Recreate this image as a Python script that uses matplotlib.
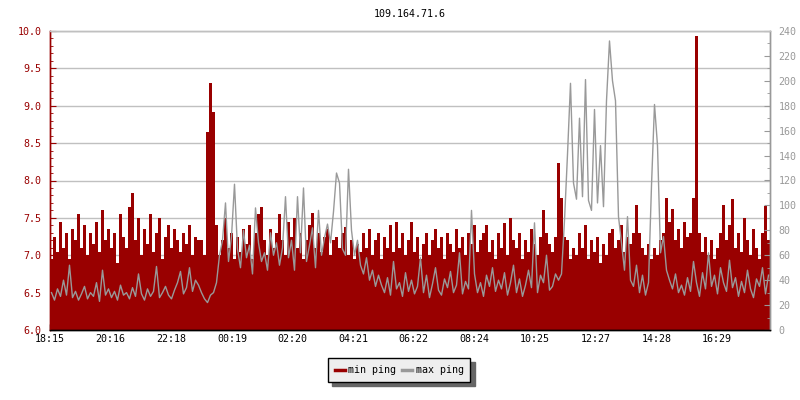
import numpy as np
import matplotlib
matplotlib.use("Agg")
import matplotlib.pyplot as plt
from matplotlib.lines import Line2D
from matplotlib.ticker import MultipleLocator, FormatStrFormatter

# ============== DATA ==============
TITLE = "109.164.71.6"
START = "18:15"
SAMPLE_MIN = 6  # minutes between samples

tick_labels = ["18:15", "20:16", "22:18", "00:19", "02:20", "04:21",
               "06:22", "08:24", "10:25", "12:27", "14:28", "16:29"]

# min ping (left axis)
min_ping = [
    6.95, 7.25, 7.05, 7.45, 7.1, 7.3, 6.95, 7.35, 7.2, 7.55,
    7.1, 7.4, 7.0, 7.3, 7.15, 7.45, 7.05, 7.6, 7.2, 7.35,
    7.1, 7.3, 6.9, 7.55, 7.25, 7.1, 7.65, 7.83, 7.2, 7.5,
    7.0, 7.35, 7.15, 7.55, 7.05, 7.3, 7.5, 6.95, 7.25, 7.4,
    7.1, 7.35, 7.2, 7.05, 7.3, 7.15, 7.4, 7.0, 7.25, 7.2,
    7.2, 7.0, 8.65, 9.31, 8.92, 7.4, 7.0, 7.2, 7.5, 7.1,
    7.3, 6.95, 7.25, 7.05, 7.35, 7.15, 7.4, 6.95, 7.3, 7.55,
    7.65, 7.2, 7.0, 7.35, 7.1, 7.3, 7.55, 7.2, 7.0, 7.45,
    7.25, 7.5, 7.1, 7.3, 6.95, 7.2, 7.4, 7.57, 7.1, 7.3,
    7.05, 7.25, 7.35, 7.0, 7.2, 7.25, 7.1, 7.3, 7.38, 7.0,
    7.2, 6.95, 7.15, 7.05, 7.3, 7.1, 7.35, 7.0, 7.2, 7.3,
    6.95, 7.25, 7.1, 7.4, 7.05, 7.45, 7.1, 7.3, 7.0, 7.2,
    7.45, 7.05, 7.25, 6.95, 7.15, 7.3, 7.0, 7.2, 7.35, 7.1,
    7.25, 6.95, 7.3, 7.15, 7.05, 7.35, 7.1, 7.25, 7.0, 7.3,
    7.15, 7.4, 7.05, 7.2, 7.3, 7.4, 7.05, 7.2, 6.95, 7.3,
    7.1, 7.43, 7.0, 7.5, 7.2, 7.1, 7.3, 6.95, 7.2, 7.05,
    7.35, 7.15, 7.0, 7.25, 7.6, 7.3, 7.15, 7.05, 7.25, 8.24,
    7.77, 7.25, 7.2, 6.95, 7.1, 7.0, 7.3, 7.1, 7.4, 6.95,
    7.2, 7.05, 7.25, 6.9, 7.15, 7.0, 7.3, 7.35, 7.1, 7.2,
    7.4, 7.05, 7.25, 7.15, 7.3, 7.67, 7.3, 7.1, 7.0, 7.15,
    6.95, 7.1, 7.0, 7.2, 7.3, 7.77, 7.45, 7.62, 7.2, 7.35,
    7.1, 7.45, 7.25, 7.3, 7.76, 9.93, 7.3, 7.05, 7.25, 7.0,
    7.2, 6.95, 7.1, 7.3, 7.67, 7.2, 7.4, 7.75, 7.1, 7.3,
    7.05, 7.5, 7.2, 7.0, 7.35, 7.1, 6.95, 7.3, 7.66, 7.2,
]

# max ping (right axis, ms)
max_ping = [
    30, 24, 33, 27, 40, 28, 52, 26, 31, 24,
    29, 35, 25, 30, 27, 38, 23, 48, 28, 33,
    26, 31, 24, 36, 28, 30, 25, 34, 27, 45,
    29, 24, 33, 27, 31, 51, 26, 30, 35, 28,
    25, 32, 38, 47, 29, 34, 50, 31, 40, 36,
    30, 25, 22, 28, 30, 38, 60, 72, 102, 55,
    75, 117, 65, 50, 80, 58, 68, 45, 98, 70,
    55, 62, 48, 78, 60, 70, 52, 66, 107, 58,
    72, 48, 107, 62, 114, 55, 68, 82, 50, 96,
    60, 74, 85, 70, 95, 126, 118, 65, 60, 129,
    80, 60, 72, 52, 45, 58, 40, 48, 35, 44,
    36, 30, 42, 28, 55, 33, 38, 27, 46, 31,
    40, 29, 35, 58, 30, 44, 26, 37, 50, 32,
    28, 41, 34, 47, 30, 36, 62, 29, 39, 33,
    96, 45, 30, 38, 27, 44, 35, 50, 31, 40,
    33, 46, 28, 38, 52, 30, 41, 27, 36, 48,
    34, 86, 30, 44, 38, 60, 32, 35, 45, 40,
    45, 88, 141, 198, 118, 105, 170, 107, 201, 104,
    96, 177, 102, 148, 99, 184, 232, 200, 184, 91,
    70, 48, 91, 40, 35, 52, 30, 44, 28, 38,
    116, 181, 148, 62, 75, 48, 40, 33, 45, 30,
    36, 28, 42, 31, 55, 38, 27, 46, 33, 62,
    35, 44, 29, 50, 38, 31, 56, 34, 42, 27,
    39, 30, 48, 33, 26, 41, 35, 50, 29, 44,
]
# ===========================================================

RED = '#990000'
GREY = '#999999'
FONT = 'DejaVu Sans Mono'
FS = 7.2


def minutes_from_start(label):
    h, m = map(int, label.split(':'))
    h0, m0 = map(int, START.split(':'))
    return ((h * 60 + m) - (h0 * 60 + m0)) % 1440


plt.rcParams['font.family'] = FONT

fig = plt.figure(figsize=(8, 4), dpi=100)
ax = fig.add_axes([50 / 800, 70 / 400, 720 / 800, 299 / 400])
ax2 = ax.twinx()

# min ping as filled steps
t = np.arange(len(min_ping)) * SAMPLE_MIN
t_edges = np.append(t, t[-1] + SAMPLE_MIN)
mins = np.append(min_ping, min_ping[-1])
ax.fill_between(t_edges, 6.0, mins, step='post', color=RED, linewidth=0, zorder=2)

# max ping as a plain line on the right axis (spiky look)
ax2.plot(t + SAMPLE_MIN / 2, max_ping, color=GREY, lw=1.0, zorder=3)

ax.set_xlim(0, 1440)
ax.set_ylim(6.0, 10.0)
ax2.set_ylim(0, 240)

# x ticks
ax.set_xticks([minutes_from_start(s) for s in tick_labels])
ax.set_xticklabels(tick_labels)
ax.tick_params(axis='x', direction='in', length=4, width=1, color='black',
               labelsize=FS, pad=3)

# left axis
ax.yaxis.set_major_locator(MultipleLocator(0.5))
ax.yaxis.set_minor_locator(MultipleLocator(0.1))
ax.yaxis.set_major_formatter(FormatStrFormatter('%.1f'))
ax.tick_params(axis='y', which='major', direction='in', length=4.5, color=RED,
               labelcolor=RED, labelsize=FS, pad=6)
ax.tick_params(axis='y', which='minor', direction='in', length=2.5, color=RED)
ax.grid(True, axis='y', which='major', color='#c0c0c0', lw=1)
ax.set_axisbelow(True)

# right axis
ax2.yaxis.set_major_locator(MultipleLocator(20))
ax2.yaxis.set_minor_locator(MultipleLocator(10))
ax2.tick_params(axis='y', which='major', direction='in', length=4.5, color=GREY,
                labelcolor=GREY, labelsize=FS, pad=6)
ax2.tick_params(axis='y', which='minor', direction='in', length=2.5, color=GREY)

for a in (ax, ax2):
    a.spines['left'].set_color(RED)
    a.spines['right'].set_color(GREY)
    a.spines['bottom'].set_color('black')
    a.spines['top'].set_color('#c0c0c0')
    for s in a.spines.values():
        s.set_linewidth(1)

ax.set_title(TITLE, fontsize=FS, pad=10)

handles = [
    Line2D([0], [0], color=RED, lw=2.5, label='min ping'),
    Line2D([0], [0], color=GREY, lw=2.5, label='max ping'),
]
fig.legend(handles=handles, loc='center', bbox_to_anchor=(399 / 800, 1 - 370 / 400),
           ncol=2, fontsize=FS, frameon=True, fancybox=False,
           shadow={'ox': 3, 'oy': -3, 'color': '#666666', 'alpha': 1},
           facecolor='#eeeeee', edgecolor='black', framealpha=1,
           handlelength=1.0, handletextpad=0.35, columnspacing=0.6,
           borderpad=0.5, borderaxespad=0)
fig.legends[0].get_frame().set_linewidth(1)
fig.legends[0]._legend_box.pad = 5

fig.savefig('out.png', dpi=100)
